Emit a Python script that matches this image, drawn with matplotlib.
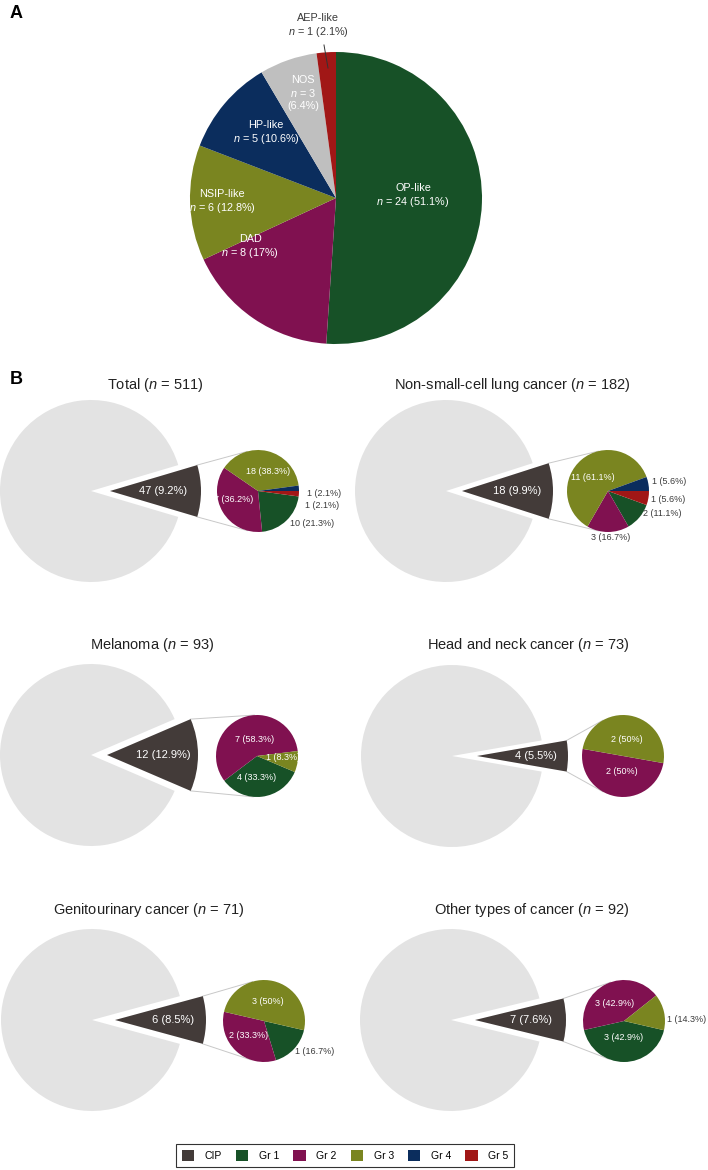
import matplotlib
matplotlib.use("Agg")
import matplotlib.pyplot as plt
from matplotlib.patches import Patch
import numpy as np

plt.rcParams['font.family'] = ['Liberation Sans', 'DejaVu Sans']
plt.rcParams['mathtext.fontset'] = 'custom'
plt.rcParams['mathtext.rm'] = 'Liberation Sans'
plt.rcParams['mathtext.it'] = 'Liberation Sans:italic'

# ---------------- data ----------------
a_categories = ["OP-like", "DAD", "NSIP-like", "HP-like", "NOS", "AEP-like"]
a_counts = [24, 8, 6, 5, 3, 1]

b_titles = ["Total", "Non-small-cell lung cancer", "Melanoma",
            "Head and neck cancer", "Genitourinary cancer", "Other types of cancer"]
b_n_total = [511, 182, 93, 73, 71, 92]
b_n_cip = [47, 18, 12, 4, 6, 7]
gr1 = [10, 2, 4, 0, 1, 3]
gr2 = [17, 3, 7, 2, 2, 3]
gr3 = [18, 11, 1, 2, 3, 1]
gr4 = [1, 1, 0, 0, 0, 0]
gr5 = [1, 1, 0, 0, 0, 0]
grade_names = ["Gr 1", "Gr 2", "Gr 3", "Gr 4", "Gr 5"]

# ---------------- style ----------------
C_CIP = "#433b39"
C_GR = ["#175127", "#801150", "#7a8520", "#0b2d5d", "#a11716"]
C_A = ["#175127", "#801150", "#7a8520", "#0b2d5d", "#bfbfbf", "#a11716"]
C_BG = "#e3e3e3"
C_TXT = "#3a3a3a"

W, H = 708, 1170
fig = plt.figure(figsize=(W / 100, H / 100), dpi=100)
ax = fig.add_axes([0, 0, 1, 1])


def Y(y):
    return H - y


def pct(v, tot):
    s = f"{100.0 * v / tot:.1f}"
    if s.endswith(".0"):
        s = s[:-2]
    return s + "%"


# ---------------- panel A ----------------
A_C = (336, 198)
A_R = 146
ax.pie(a_counts, colors=C_A, startangle=90, counterclock=False,
       center=(A_C[0], Y(A_C[1])), radius=A_R, wedgeprops=dict(linewidth=0))

a_total = sum(a_counts)
A_LAB = {
    "OP-like": ((413, 196), "white"),
    "DAD": ((250, 247), "white"),
    "NSIP-like": ((222, 202), "white"),
    "HP-like": ((266, 133), "white"),
    "NOS": ((303, 93), "white"),
    "AEP-like": ((318, 26), C_TXT),
}
for cat, v in zip(a_categories, a_counts):
    (x, y), col = A_LAB[cat]
    if cat == "NOS":
        s = f"{cat}\n$n$ = {v}\n({pct(v, a_total)})"
    else:
        s = f"{cat}\n$n$ = {v} ({pct(v, a_total)})"
    ax.text(x, Y(y), s, ha="center", va="center", color=col, fontsize=7.8,
            linespacing=1.25)
ax.plot([324, 328], [Y(45), Y(68)], color="#333333", lw=0.7)

fig.text(10 / W, 1 - 13 / H, "A", fontsize=13, fontweight="bold", ha="left", va="center")
fig.text(10 / W, 1 - 379 / H, "B", fontsize=13, fontweight="bold", ha="left", va="center")

# ---------------- panel B ----------------
R_BIG = 91
R_SMALL = 41
LAYOUT = [
    dict(big=(91, 491), small=(258, 491), explode=19, start=-7.66, title=(155, 385), cip_dx=72),
    dict(big=(446, 491), small=(608, 491), explode=16, start=-20, title=(512, 385), cip_dx=71),
    dict(big=(91, 755), small=(257, 756), explode=16, start=-23, title=(152, 645), cip_dx=72),
    dict(big=(452, 756), small=(623, 756), explode=25, start=-10, title=(528, 645), cip_dx=84),
    dict(big=(92, 1020), small=(264, 1021), explode=23, start=-13, title=(149, 910), cip_dx=81),
    dict(big=(451, 1020), small=(624, 1021), explode=24, start=-13, title=(532, 910), cip_dx=80),
]
# label offsets relative to small pie centre (dx, dy, ha, inside)
SMALL_LAB = [
    {0: (32, 32, "left", False), 1: (-5, 9, "right", True), 2: (10, -19, "center", True),
     3: (49, 3, "left", False), 4: (47, 14, "left", False)},
    {0: (35, 23, "left", False), 1: (3, 46, "center", False), 2: (-15, -13, "center", True),
     3: (44, -9, "left", False), 4: (43, 8, "left", False)},
    {0: (0, 22, "center", True), 1: (-2, -17, "center", True), 2: (9, 1, "left", True)},
    {1: (-1, 16, "center", True), 2: (4, -17, "center", True)},
    {0: (31, 31, "left", False), 1: (4, 14, "right", True), 2: (4, -20, "center", True)},
    {0: (0, 17, "center", True), 1: (-9, -18, "center", True), 2: (43, -2, "left", False)},
]

grades = list(zip(gr1, gr2, gr3, gr4, gr5))

for i, lay in enumerate(LAYOUT):
    bx, by = lay["big"]
    sx, sy = lay["small"]
    e = lay["explode"]
    cip = b_n_cip[i]
    tot = b_n_total[i]
    frac = cip / tot
    half = frac * 180.0

    # big pie
    ax.pie([cip, tot - cip], colors=[C_CIP, C_BG], startangle=-half,
           counterclock=True, explode=[e, 0], center=(bx, Y(by)), radius=R_BIG,
           wedgeprops=dict(linewidth=0))
    ax.text(bx + lay["cip_dx"], Y(by), f"{cip} ({pct(cip, tot)})", ha="center",
            va="center", color="white", fontsize=8)

    # title
    tx, ty = lay["title"]
    ax.text(tx, Y(ty), f"{b_titles[i]} ($n$ = {tot})", ha="center", va="center",
            fontsize=10.5, color="#222222")

    # small pie
    vals = grades[i]
    idx = [k for k, v in enumerate(vals) if v > 0]
    ax.pie([vals[k] for k in idx], colors=[C_GR[k] for k in idx],
           startangle=lay["start"], counterclock=False,
           center=(sx, Y(sy)), radius=R_SMALL, wedgeprops=dict(linewidth=0))
    for k in idx:
        dx, dy, ha, inside = SMALL_LAB[i][k]
        ax.text(sx + dx, Y(sy + dy), f"{vals[k]} ({pct(vals[k], cip)})", ha=ha,
                va="center", fontsize=6.5,
                color="white" if inside else C_TXT, zorder=5)

    # connector lines (tangents from CIP wedge corners to the small pie)
    h = np.radians(half)
    cx0 = bx + e
    for sgn in (1, -1):
        ux = cx0 + R_BIG * np.cos(h)
        uy = Y(by) + sgn * R_BIG * np.sin(h)
        ddx, ddy = sx - ux, Y(sy) - uy
        D = np.hypot(ddx, ddy)
        phi = np.arctan2(ddy, ddx)
        alpha = np.arcsin(R_SMALL / D)
        L = np.sqrt(D ** 2 - R_SMALL ** 2)
        ang = phi + sgn * alpha
        ax.plot([ux, ux + L * np.cos(ang)], [uy, uy + L * np.sin(ang)],
                color="#c8c8c8", lw=0.7, zorder=0)

ax.set_xlim(0, W)
ax.set_ylim(0, H)
ax.set_aspect("auto")
ax.axis("off")

# legend
handles = [Patch(facecolor=C_CIP, edgecolor="none")] + \
          [Patch(facecolor=c, edgecolor="none") for c in C_GR]
labels = ["CIP"] + grade_names
leg = fig.legend(handles, labels, loc="center", bbox_to_anchor=(345 / W, 1 - 1155.5 / H),
                 ncol=6, frameon=True, fancybox=False, edgecolor="black",
                 fontsize=7.5, handlelength=1.2, handleheight=1.2,
                 handletextpad=1.0, columnspacing=1.35, borderpad=0.55)
leg.get_frame().set_linewidth(0.8)

fig.savefig("out.png", dpi=100)
